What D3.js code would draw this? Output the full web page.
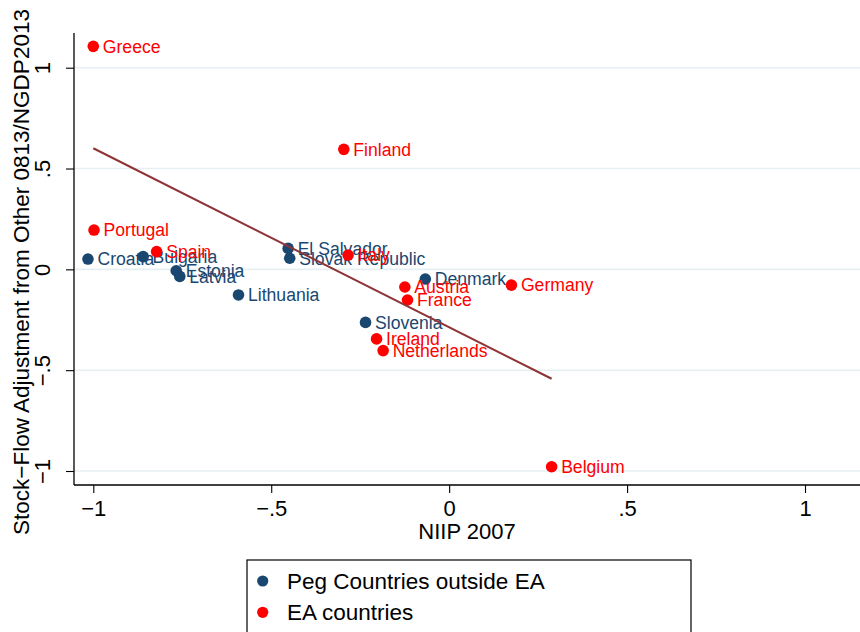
<!DOCTYPE html>
<html>
<head>
<meta charset="utf-8">
<script src="https://cdn.jsdelivr.net/npm/d3@7"></script>
<style>
  html, body { margin: 0; padding: 0; background: #ffffff; }
  svg { display: block; font-family: "Liberation Sans", Arial, Helvetica, sans-serif; }
</style>
</head>
<body>
<svg id="chart" width="860" height="632"></svg>
<script>
// Peg countries outside the euro area
const pegCountries = ["Croatia", "Bulgaria", "Estonia", "Latvia", "Lithuania", "El Salvador", "Slovak Republic", "Denmark", "Slovenia"];
const pegNiip      = [-1.015, -0.860, -0.767, -0.757, -0.592, -0.4525, -0.448, -0.067, -0.235];
const pegSfa       = [0.051, 0.063, -0.007, -0.035, -0.127, 0.104, 0.055, -0.048, -0.263];

// Euro-area countries
const eaCountries = ["Greece", "Finland", "Portugal", "Spain", "Italy", "Austria", "France", "Germany", "Ireland", "Netherlands", "Belgium"];
const eaNiip      = [-1.000, -0.296, -0.998, -0.822, -0.284, -0.1245, -0.117, 0.175, -0.204, -0.1855, 0.288];
const eaSfa       = [1.106, 0.595, 0.195, 0.088, 0.071, -0.0875, -0.152, -0.078, -0.345, -0.403, -0.979];

// Axis ticks
const xTicks = [-1, -0.5, 0, 0.5, 1];
const xTickLabels = ["\u22121", "\u2212.5", "0", ".5", "1"];
const yTicks = [-1, -0.5, 0, 0.5, 1];
const yTickLabels = ["\u22121", "\u2212.5", "0", ".5", "1"];

const legendLabels = ["Peg Countries outside EA", "EA countries"];

const NAVY = "#1a476f";
const RED = "#ff0000";
const FIT = "#8e3437";

const svg = d3.select("#chart");

const plot = { left: 74, right: 860, top: 33, bottom: 485 };

const x = d3.scaleLinear()
  .domain([-1, 1])
  .range([93.3, 805]);
const y = d3.scaleLinear()
  .domain([-1, 1])
  .range([471, 67.7]);

// horizontal grid lines
svg.append("g")
  .selectAll("line")
  .data(yTicks)
  .join("line")
  .attr("x1", plot.left)
  .attr("x2", plot.right)
  .attr("y1", d => y(d))
  .attr("y2", d => y(d))
  .attr("stroke", "#e6eff1")
  .attr("stroke-width", 1.6);

// x axis
const xAxis = d3.axisBottom(x)
  .tickValues(xTicks)
  .tickFormat((d, i) => xTickLabels[i])
  .tickSize(8)
  .tickSizeOuter(0);
const gx = svg.append("g")
  .attr("transform", `translate(0,${plot.bottom})`)
  .call(xAxis);
gx.select(".domain").remove();
gx.append("line")
  .attr("x1", plot.left).attr("x2", plot.right)
  .attr("y1", 0).attr("y2", 0)
  .attr("stroke", "#000").attr("stroke-width", 1.3);
gx.selectAll(".tick line").attr("stroke", "#000").attr("stroke-width", 1.1);
gx.selectAll(".tick text")
  .attr("y", 31)
  .attr("dy", 0)
  .attr("fill", "#000")
  .style("font-size", "22px")
  .style("font-family", "'Liberation Sans', Arial, sans-serif");

// y axis
const yAxis = d3.axisLeft(y)
  .tickValues(yTicks)
  .tickFormat((d, i) => yTickLabels[i])
  .tickSize(8)
  .tickSizeOuter(0);
const gy = svg.append("g")
  .attr("transform", `translate(${plot.left},0)`)
  .call(yAxis);
gy.select(".domain").remove();
gy.append("line")
  .attr("x1", 0).attr("x2", 0)
  .attr("y1", plot.top).attr("y2", plot.bottom)
  .attr("stroke", "#000").attr("stroke-width", 1.3);
gy.selectAll(".tick line").attr("stroke", "#000").attr("stroke-width", 1.1);
gy.selectAll(".tick text")
  .attr("x", 0).attr("dy", 0)
  .attr("text-anchor", "middle")
  .attr("transform", "translate(-24,0) rotate(-90) translate(0,0)")
  .attr("fill", "#000")
  .style("font-size", "22px")
  .style("font-family", "'Liberation Sans', Arial, sans-serif");

// axis titles
svg.append("text")
  .attr("x", (plot.left + plot.right) / 2)
  .attr("y", 539)
  .attr("text-anchor", "middle")
  .style("font-size", "22px")
  .attr("fill", "#000")
  .text("NIIP 2007");

svg.append("text")
  .attr("transform", "translate(29,272) rotate(-90)")
  .attr("text-anchor", "middle")
  .style("font-size", "22.5px")
  .attr("fill", "#000")
  .text("Stock\u2212Flow Adjustment from Other 0813/NGDP2013");

// labelled scatter series
function drawSeries(names, xs, ys, color) {
  const g = svg.append("g");
  const rows = names.map((n, i) => ({ name: n, x: xs[i], y: ys[i] }));
  g.selectAll("circle")
    .data(rows)
    .join("circle")
    .attr("cx", d => x(d.x))
    .attr("cy", d => y(d.y))
    .attr("r", 5.8)
    .attr("fill", color);
  g.selectAll("text")
    .data(rows)
    .join("text")
    .attr("x", d => x(d.x) + 9.5)
    .attr("y", d => y(d.y) + 6.4)
    .attr("fill", color)
    .style("font-size", "17.6px")
    .text(d => d.name);
}
drawSeries(pegCountries, pegNiip, pegSfa, NAVY);
drawSeries(eaCountries, eaNiip, eaSfa, RED);

// OLS fit over euro-area countries
const mx = d3.mean(eaNiip), my = d3.mean(eaSfa);
const sxy = d3.sum(eaNiip.map((v, i) => (v - mx) * (eaSfa[i] - my)));
const sxx = d3.sum(eaNiip.map(v => (v - mx) * (v - mx)));
const slope = sxy / sxx;
const intercept = my - slope * mx;
const [fx0, fx1] = d3.extent(eaNiip);
svg.append("line")
  .attr("x1", x(fx0)).attr("y1", y(intercept + slope * fx0))
  .attr("x2", x(fx1)).attr("y2", y(intercept + slope * fx1))
  .attr("stroke", FIT)
  .attr("stroke-width", 2);

// legend
const lg = svg.append("g");
lg.append("rect")
  .attr("x", 247).attr("y", 560)
  .attr("width", 444).attr("height", 120)
  .attr("fill", "#fff")
  .attr("stroke", "#000")
  .attr("stroke-width", 1.2);
[NAVY, RED].forEach((c, i) => {
  const cy = 581 + i * 31.3;
  lg.append("circle").attr("cx", 262.7).attr("cy", cy).attr("r", 5.6).attr("fill", c);
  lg.append("text")
    .attr("x", 287).attr("y", cy + 8)
    .style("font-size", "22.5px")
    .attr("fill", "#000")
    .text(legendLabels[i]);
});
</script>
</body>
</html>
